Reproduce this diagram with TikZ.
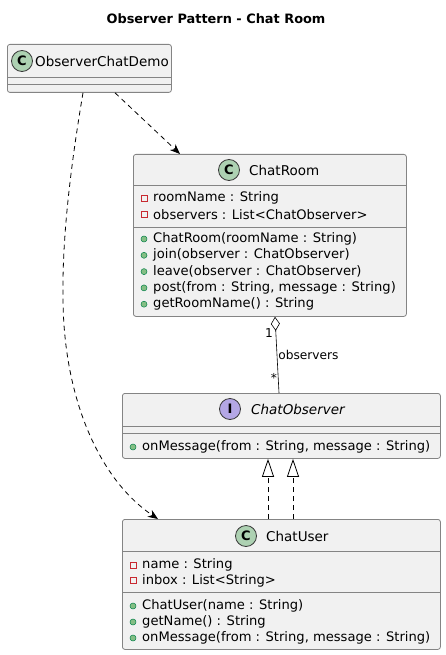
\documentclass[tikz,border=0pt]{standalone}
\usepackage{fontspec}
\setmainfont{DejaVu Sans}
\usetikzlibrary{calc,arrows.meta,positioning}

\definecolor{boxfill}{HTML}{F1F1F1}
\definecolor{boxline}{HTML}{848484}
\definecolor{iconline}{HTML}{383838}
\definecolor{classicon}{HTML}{ADD1B2}
\definecolor{ifaceicon}{HTML}{B4A7E5}
\definecolor{privred}{HTML}{C82930}
\definecolor{pubfill}{HTML}{84BE84}
\definecolor{publine}{HTML}{038048}

\tikzset{
  umlbox/.style={draw=boxline,fill=boxfill,line width=0.8pt,rounded corners=2.5pt,
    anchor=north west,inner sep=0pt},
  divider/.style={draw=boxline,line width=0.8pt},
  headicon/.style={circle,draw=iconline,line width=0.8pt,minimum size=21pt,inner sep=0pt,
    font=\bfseries\fontsize{13}{13}\selectfont},
  headname/.style={anchor=west,inner sep=0pt,font=\fontsize{13.5}{16}\selectfont},
  member/.style={anchor=west,inner sep=0pt,font=\fontsize{13.1}{15}\selectfont},
  privmark/.style={draw=privred,line width=0.7pt,minimum size=6pt,inner sep=0pt},
  pubmark/.style={circle,draw=publine,fill=pubfill,line width=0.5pt,minimum size=6pt,inner sep=0pt},
  edgelabel/.style={inner sep=0pt,font=\fontsize{12.2}{14}\selectfont},
  dep/.style={draw,line width=0.8pt,dash pattern=on 5pt off 4pt,-{Stealth[length=10pt,width=8pt,inset=3pt]}},
  realize/.style={draw,line width=0.8pt,dash pattern=on 5pt off 4pt,-{Triangle[open,length=18pt,width=12pt]}},
}

\begin{document}
\begin{tikzpicture}[x=1pt,y=-1pt]
  \useasboundingbox (0,0) rectangle (446,655);
  \node[font=\bfseries\fontsize{12.9}{15}\selectfont] (title) at (216,19) {Observer Pattern - Chat Room};

  % --- ObserverChatDemo ---
  \node[umlbox,minimum width=164pt,minimum height=48pt] (demo) at (7,44) {};
  \draw[divider] ([yshift=-33pt]demo.north west) -- ([yshift=-33pt]demo.north east);
  \draw[divider] ([yshift=-40pt]demo.north west) -- ([yshift=-40pt]demo.north east);
  \node[headicon,fill=classicon] (demo-icon) at (22,61) {C};
  \node[headname] (demo-name) at (35,61) {ObserverChatDemo};

  % --- ChatRoom ---
  \node[umlbox,minimum width=273pt,minimum height=162pt] (room) at (133,154) {};
  \draw[divider] ([yshift=-31pt]room.north west) -- ([yshift=-31pt]room.north east);
  \draw[divider] ([yshift=-73pt]room.north west) -- ([yshift=-73pt]room.north east);
  \node[headicon,fill=classicon] (room-icon) at (229,170) {C};
  \node[headname] (room-name) at (249,170) {ChatRoom};
  \foreach \a [count=\i] in {{roomName : String},{observers : List<ChatObserver>}}{
    \node[privmark] (room-ai\i) at (144,{181.7+16.3*\i}) {};
    \node[member] (room-a\i) at (153,{181.7+16.3*\i}) {\a};
  }
  \foreach \m [count=\i] in {{ChatRoom(roomName : String)},{join(observer : ChatObserver)},
      {leave(observer : ChatObserver)},{post(from : String, message : String)},{getRoomName() : String}}{
    \node[pubmark] (room-mi\i) at (144,{222.7+16.3*\i}) {};
    \node[member] (room-m\i) at (153,{222.7+16.3*\i}) {\m};
  }

  % --- ChatObserver (interface) ---
  \node[umlbox,minimum width=318pt,minimum height=65pt] (observer) at (122,393) {};
  \draw[divider] ([yshift=-33pt]observer.north west) -- ([yshift=-33pt]observer.north east);
  \draw[divider] ([yshift=-40pt]observer.north west) -- ([yshift=-40pt]observer.north east);
  \node[headicon,fill=ifaceicon] (observer-icon) at (230,409) {I};
  \node[headname,font=\itshape\fontsize{13.5}{16}\selectfont] (observer-name) at (251,409) {ChatObserver};
  \node[pubmark] (observer-mi1) at (133,447) {};
  \node[member] (observer-m1) at (142,447) {onMessage(from : String, message : String)};

  % --- ChatUser ---
  \node[umlbox,minimum width=318pt,minimum height=130pt] (user) at (122,519) {};
  \draw[divider] ([yshift=-32pt]user.north west) -- ([yshift=-32pt]user.north east);
  \draw[divider] ([yshift=-73pt]user.north west) -- ([yshift=-73pt]user.north east);
  \node[headicon,fill=classicon] (user-icon) at (246,536) {C};
  \node[headname] (user-name) at (266,536) {ChatUser};
  \foreach \a [count=\i] in {{name : String},{inbox : List<String>}}{
    \node[privmark] (user-ai\i) at (133,{549.5+15.5*\i}) {};
    \node[member] (user-a\i) at (142,{549.5+15.5*\i}) {\a};
  }
  \foreach \m [count=\i] in {{ChatUser(name : String)},{getName() : String},
      {onMessage(from : String, message : String)}}{
    \node[pubmark] (user-mi\i) at (133,{590+16*\i}) {};
    \node[member] (user-m\i) at (142,{590+16*\i}) {\m};
  }

  % dependencies
  \draw[dep] ([xshift=108pt]demo.south west) -- ([xshift=47pt]room.north west);
  \draw[dep] ([xshift=76pt]demo.south west) .. controls (70,170) and (62,240) .. (63,300)
    .. controls (64,400) and (100,480) .. ([xshift=36pt]user.north west);

  % aggregation
  \draw[line width=0.6pt,{Diamond[open,length=14pt,width=9pt]}-]
    ([xshift=142pt]room.south west) -- ([xshift=157pt]observer.north west)
    node[edgelabel,pos=0.5,anchor=west,xshift=1pt] (agg-role) {observers};
  \node[edgelabel,anchor=east] (agg-one) at (273,333) {1};
  \node[edgelabel] (agg-many) at (274,378) {*};

  % realisations
  \draw[realize] ([xshift=146pt]user.north west) -- ([xshift=146pt]observer.south west);
  \draw[realize] ([xshift=171pt]user.north west) -- ([xshift=171pt]observer.south west);
\end{tikzpicture}
\end{document}
